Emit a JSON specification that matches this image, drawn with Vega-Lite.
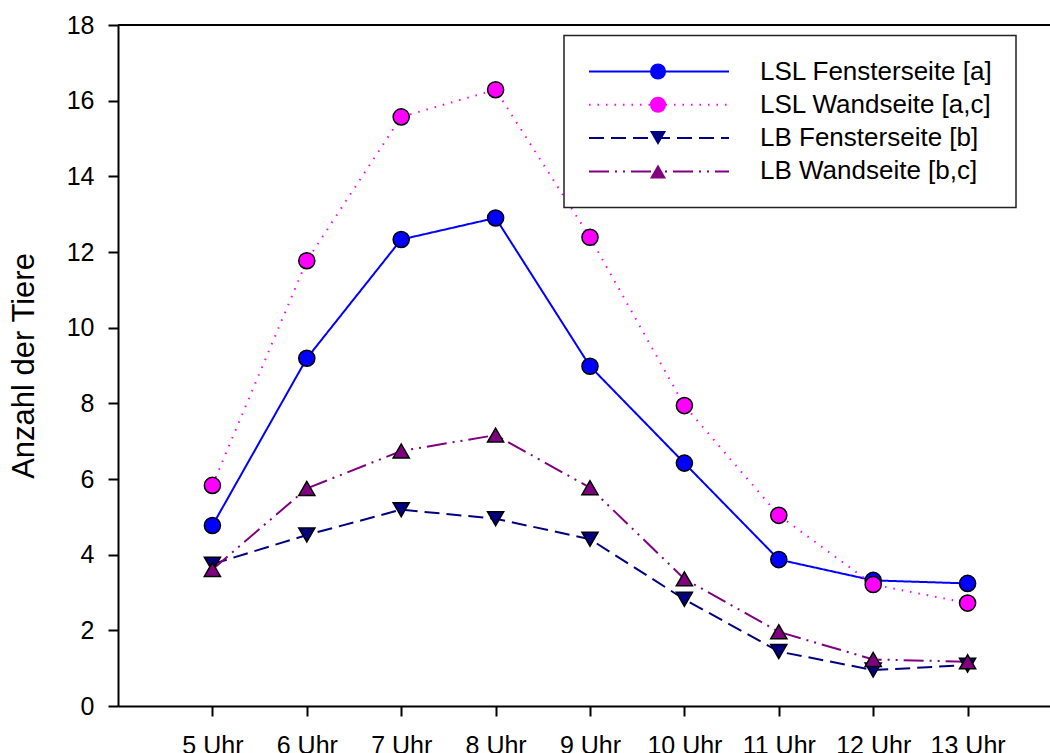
{
  "$schema": "https://vega.github.io/schema/vega-lite/v6.json",
  "autosize": "none",
  "width": 932,
  "height": 681,
  "padding": {"left": 118, "top": 25, "right": 0, "bottom": 47},
  "background": "white",
  "config": {
    "view": {"stroke": null},
    "font": "Liberation Sans",
    "axis": {"grid": false, "domainColor": "black", "domainWidth": 2, "tickColor": "black", "tickWidth": 2, "tickSize": 10, "labelFont": "Liberation Sans", "labelFontSize": 25, "labelColor": "black", "titleFont": "Liberation Sans", "titleColor": "black", "titleFontWeight": "normal"}
  },
  "data": {
    "values": [
      {"zeit": 5, "serie": "LSL Fensterseite [a]", "anzahl": 4.77},
      {"zeit": 6, "serie": "LSL Fensterseite [a]", "anzahl": 9.19},
      {"zeit": 7, "serie": "LSL Fensterseite [a]", "anzahl": 12.33},
      {"zeit": 8, "serie": "LSL Fensterseite [a]", "anzahl": 12.90},
      {"zeit": 9, "serie": "LSL Fensterseite [a]", "anzahl": 8.98},
      {"zeit": 10, "serie": "LSL Fensterseite [a]", "anzahl": 6.42},
      {"zeit": 11, "serie": "LSL Fensterseite [a]", "anzahl": 3.87},
      {"zeit": 12, "serie": "LSL Fensterseite [a]", "anzahl": 3.32},
      {"zeit": 13, "serie": "LSL Fensterseite [a]", "anzahl": 3.24},
      {"zeit": 5, "serie": "LSL Wandseite [a,c]", "anzahl": 5.83},
      {"zeit": 6, "serie": "LSL Wandseite [a,c]", "anzahl": 11.77},
      {"zeit": 7, "serie": "LSL Wandseite [a,c]", "anzahl": 15.57},
      {"zeit": 8, "serie": "LSL Wandseite [a,c]", "anzahl": 16.29},
      {"zeit": 9, "serie": "LSL Wandseite [a,c]", "anzahl": 12.39},
      {"zeit": 10, "serie": "LSL Wandseite [a,c]", "anzahl": 7.94},
      {"zeit": 11, "serie": "LSL Wandseite [a,c]", "anzahl": 5.04},
      {"zeit": 12, "serie": "LSL Wandseite [a,c]", "anzahl": 3.21},
      {"zeit": 13, "serie": "LSL Wandseite [a,c]", "anzahl": 2.72},
      {"zeit": 5, "serie": "LB Fensterseite [b]", "anzahl": 3.75},
      {"zeit": 6, "serie": "LB Fensterseite [b]", "anzahl": 4.52},
      {"zeit": 7, "serie": "LB Fensterseite [b]", "anzahl": 5.19},
      {"zeit": 8, "serie": "LB Fensterseite [b]", "anzahl": 4.95},
      {"zeit": 9, "serie": "LB Fensterseite [b]", "anzahl": 4.41},
      {"zeit": 10, "serie": "LB Fensterseite [b]", "anzahl": 2.82},
      {"zeit": 11, "serie": "LB Fensterseite [b]", "anzahl": 1.44},
      {"zeit": 12, "serie": "LB Fensterseite [b]", "anzahl": 0.95},
      {"zeit": 13, "serie": "LB Fensterseite [b]", "anzahl": 1.08},
      {"zeit": 5, "serie": "LB Wandseite [b,c]", "anzahl": 3.61},
      {"zeit": 6, "serie": "LB Wandseite [b,c]", "anzahl": 5.75},
      {"zeit": 7, "serie": "LB Wandseite [b,c]", "anzahl": 6.74},
      {"zeit": 8, "serie": "LB Wandseite [b,c]", "anzahl": 7.16},
      {"zeit": 9, "serie": "LB Wandseite [b,c]", "anzahl": 5.77},
      {"zeit": 10, "serie": "LB Wandseite [b,c]", "anzahl": 3.36},
      {"zeit": 11, "serie": "LB Wandseite [b,c]", "anzahl": 1.96},
      {"zeit": 12, "serie": "LB Wandseite [b,c]", "anzahl": 1.23},
      {"zeit": 13, "serie": "LB Wandseite [b,c]", "anzahl": 1.17}
    ]
  },
  "encoding": {
    "x": {
      "field": "zeit", "type": "quantitative",
      "scale": {"domain": [4, 13.873], "nice": false, "zero": false},
      "axis": {"values": [5, 6, 7, 8, 9, 10, 11, 12, 13], "labelExpr": "datum.value + ' Uhr'", "title": null, "labelPadding": 17, "labelFlush": false, "labelOverlap": false}
    },
    "y": {
      "field": "anzahl", "type": "quantitative",
      "scale": {"domain": [0, 18], "nice": false},
      "axis": {"values": [0, 2, 4, 6, 8, 10, 12, 14, 16, 18], "title": "Anzahl der Tiere", "titleFontSize": 31, "titlePadding": 26, "labelPadding": 14, "labelFlush": false}
    }
  },
  "layer": [
    {
      "mark": {"type": "rule", "color": "black", "strokeWidth": 2},
      "encoding": {"y": {"datum": 18}, "x": {"datum": 4}, "x2": {"datum": 13.873}}
    },
    {
      "mark": {"type": "line", "strokeWidth": 2},
      "encoding": {
        "color": {
          "field": "serie", "type": "nominal",
          "sort": ["LSL Fensterseite [a]", "LSL Wandseite [a,c]", "LB Fensterseite [b]", "LB Wandseite [b,c]"],
          "scale": {"range": ["#0000FF", "#FF00FF", "#000080", "#800080"]},
          "legend": null
        },
        "strokeDash": {
          "field": "serie", "type": "nominal",
          "sort": ["LSL Fensterseite [a]", "LSL Wandseite [a,c]", "LB Fensterseite [b]", "LB Wandseite [b,c]"],
          "scale": {"range": [[1, 0], [1.5, 7], [15, 7], [20, 6, 2, 6, 2, 6]]},
          "legend": {
            "orient": "none", "legendX": 446, "legendY": 10.5, "title": null,
            "symbolType": "M-7,0L7,0", "symbolSize": 400, "symbolOffset": 59, "symbolStrokeWidth": 2,
            "labelFont": "Liberation Sans", "labelFontSize": 26, "labelColor": "black", "labelOffset": 88, "labelLimit": 400,
            "padding": 23, "rowPadding": 7.3, "strokeColor": "#222222", "fillColor": "white",
            "encode": {
              "legend": {"update": {"strokeWidth": {"value": 1.5}}},
              "symbols": {"update": {"stroke": {"scale": "color", "field": "value"}, "strokeDash": {"scale": "strokeDash", "field": "value"}, "strokeWidth": {"value": 2}, "opacity": {"value": 1}}}
            }
          }
        }
      }
    },
    {
      "mark": {"type": "point", "filled": true, "opacity": 1, "stroke": "black", "strokeWidth": 1.5, "size": 260},
      "encoding": {
        "fill": {
          "field": "serie", "type": "nominal",
          "scale": {"domain": ["LSL Fensterseite [a]", "LSL Wandseite [a,c]", "LB Fensterseite [b]", "LB Wandseite [b,c]"], "range": ["#0000FF", "#FF00FF", "#000080", "#800080"]},
          "legend": null
        },
        "shape": {
          "field": "serie", "type": "nominal",
          "scale": {"domain": ["LSL Fensterseite [a]", "LSL Wandseite [a,c]", "LB Fensterseite [b]", "LB Wandseite [b,c]"], "range": ["circle", "circle", "triangle-down", "triangle-up"]},
          "legend": {
            "orient": "none", "legendX": 527, "legendY": 33.5, "title": null, "padding": 0,
            "symbolSize": 260, "symbolStrokeColor": "black", "symbolStrokeWidth": 1.5, "symbolOpacity": 1,
            "labelFont": "Liberation Sans", "labelFontSize": 26, "labelOpacity": 0, "labelExpr": "' '", "labelOffset": 4, "labelLimit": 400, "rowPadding": 7.3,
            "encode": {"symbols": {"update": {"fill": {"scale": "fill", "field": "value"}, "stroke": {"value": "black"}, "strokeWidth": {"value": 1.5}, "opacity": {"value": 1}}}}
          }
        }
      }
    }
  ]
}
